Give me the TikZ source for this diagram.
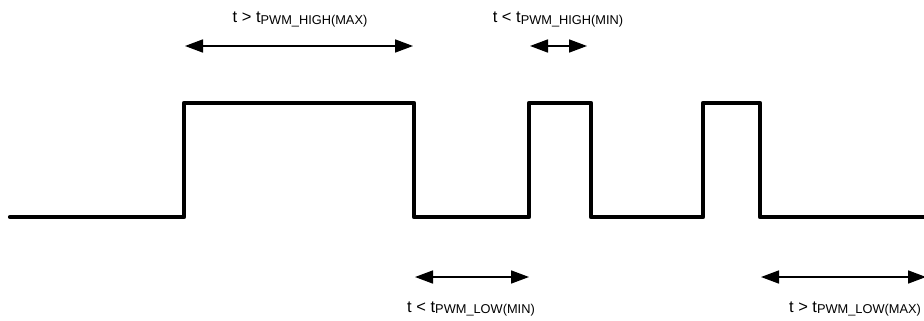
\documentclass[tikz,border=0pt]{standalone}
\usepackage{fontspec}
\setmainfont{Liberation Sans}
\usetikzlibrary{arrows.meta}
\newcommand{\tlabel}[2]{\fontsize{16.5}{19}\selectfont t #1 t\raisebox{-1.5pt}{\fontsize{12.8}{14}\selectfont #2}}
\begin{document}
\begin{tikzpicture}[x=1pt,y=-1pt,
  wave/.style={line width=4.2pt,line join=round,line cap=round},
  span/.style={line width=1.6pt,{Triangle[length=18pt,width=13pt]}-{Triangle[length=18pt,width=13pt]}},
  lbl/.style={inner sep=0pt,anchor=base}]
\useasboundingbox (0,0) rectangle (924,321);
% waveform points
\coordinate (w0) at (10,217);
\coordinate (w1) at (184,217);
\coordinate (w2) at (184,103);
\coordinate (w3) at (414,103);
\coordinate (w4) at (414,217);
\coordinate (w5) at (529,217);
\coordinate (w6) at (529,103);
\coordinate (w7) at (591,103);
\coordinate (w8) at (591,217);
\coordinate (w9) at (703,217);
\coordinate (w10) at (703,103);
\coordinate (w11) at (760,103);
\coordinate (w12) at (760,217);
\coordinate (w13) at (926,217);
\draw[wave] (w0) -- (w1) -- (w2) -- (w3) -- (w4) -- (w5) -- (w6) -- (w7) -- (w8) -- (w9) -- (w10) -- (w11) -- (w12) -- (w13);
% arrows
\coordinate (a1l) at (185,46);
\coordinate (a1r) at (413,46);
\coordinate (a2l) at (530,46);
\coordinate (a2r) at (587,46);
\coordinate (a3l) at (415,277);
\coordinate (a3r) at (529,277);
\coordinate (a4l) at (761,277);
\coordinate (a4r) at (926,277);
\draw[span] (a1l) -- (a1r);
\draw[span] (a2l) -- (a2r);
\draw[span] (a3l) -- (a3r);
\draw[span] (a4l) -- (a4r);
% labels
\node[lbl] (l1) at (300,23) {\tlabel{>}{PWM\_HIGH(MAX)}};
\node[lbl] (l2) at (558,23) {\tlabel{<}{PWM\_HIGH(MIN)}};
\node[lbl] (l3) at (471,312) {\tlabel{<}{PWM\_LOW(MIN)}};
\node[lbl] (l4) at (855,312) {\tlabel{>}{PWM\_LOW(MAX)}};
\end{tikzpicture}
\end{document}
